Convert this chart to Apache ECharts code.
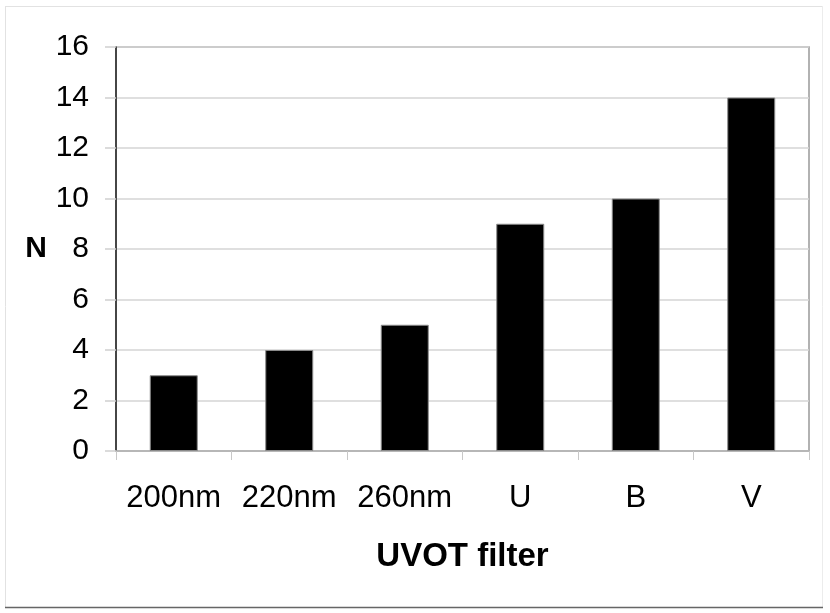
<!DOCTYPE html>
<html>
<head>
<meta charset="utf-8">
<script src="https://cdn.jsdelivr.net/npm/echarts@6/dist/echarts.min.js"></script>
<style>
html,body{margin:0;padding:0;background:#fff;}
#chart{width:830px;height:613px;}
</style>
</head>
<body>
<div id="chart"></div>
<script>
var categories = ['200nm', '220nm', '260nm', 'U', 'B', 'V'];
var counts = [3, 4, 5, 9, 10, 14];
var xName = 'UVOT filter';
var yName = 'N';

var FONT = 'Liberation Sans, Arial, Helvetica, sans-serif';
var chart = echarts.init(document.getElementById('chart'), null, {renderer: 'canvas'});
chart.setOption({
  backgroundColor: '#ffffff',
  animation: false,
  graphic: [
    {type: 'line', shape: {x1: 5, y1: 6.5, x2: 823, y2: 6.5}, style: {stroke: '#e2e2e2', lineWidth: 1}},
    {type: 'line', shape: {x1: 5.5, y1: 6, x2: 5.5, y2: 607}, style: {stroke: '#e2e2e2', lineWidth: 1}},
    {type: 'line', shape: {x1: 822.5, y1: 6, x2: 822.5, y2: 607}, style: {stroke: '#ececec', lineWidth: 1}},
    {type: 'line', shape: {x1: 5, y1: 607.5, x2: 823, y2: 607.5}, style: {stroke: '#666666', lineWidth: 1.5}}
  ],
  grid: {
    left: 116, top: 47, width: 693, height: 404,
    show: true, borderColor: '#999999', borderWidth: 1.5, backgroundColor: 'transparent'
  },
  xAxis: {
    type: 'category',
    data: categories,
    boundaryGap: true,
    name: xName,
    nameLocation: 'middle',
    nameGap: 89,
    nameTextStyle: {fontFamily: FONT, fontSize: 33, fontWeight: 'bold', color: '#000'},
    axisLine: {show: true, lineStyle: {color: '#b0b0b0', width: 1.5}},
    axisTick: {show: true, alignWithLabel: false, length: 9, lineStyle: {color: '#c8c8c8', width: 1}},
    axisLabel: {fontFamily: FONT, fontSize: 31, color: '#000', margin: 32, interval: 0},
    splitLine: {show: false}
  },
  yAxis: {
    type: 'value',
    min: 0, max: 16, interval: 2,
    name: yName,
    nameLocation: 'middle',
    nameRotate: 0,
    nameGap: 69,
    nameTextStyle: {fontFamily: FONT, fontSize: 30, fontWeight: 'bold', color: '#000'},
    axisLine: {show: true, lineStyle: {color: '#222', width: 1.5}},
    axisTick: {show: true, length: 11, lineStyle: {color: '#cfcfcf', width: 1.5}},
    axisLabel: {fontFamily: FONT, fontSize: 30, color: '#000', margin: 27, padding: [5, 0, 0, 0]},
    splitLine: {show: true, lineStyle: {color: '#d4d4d4', width: 1.5}}
  },
  series: [{
    type: 'bar',
    data: counts,
    barWidth: 48,
    itemStyle: {color: '#000000', borderColor: '#8a8a8a', borderWidth: 1}
  }]
});
</script>
</body>
</html>
